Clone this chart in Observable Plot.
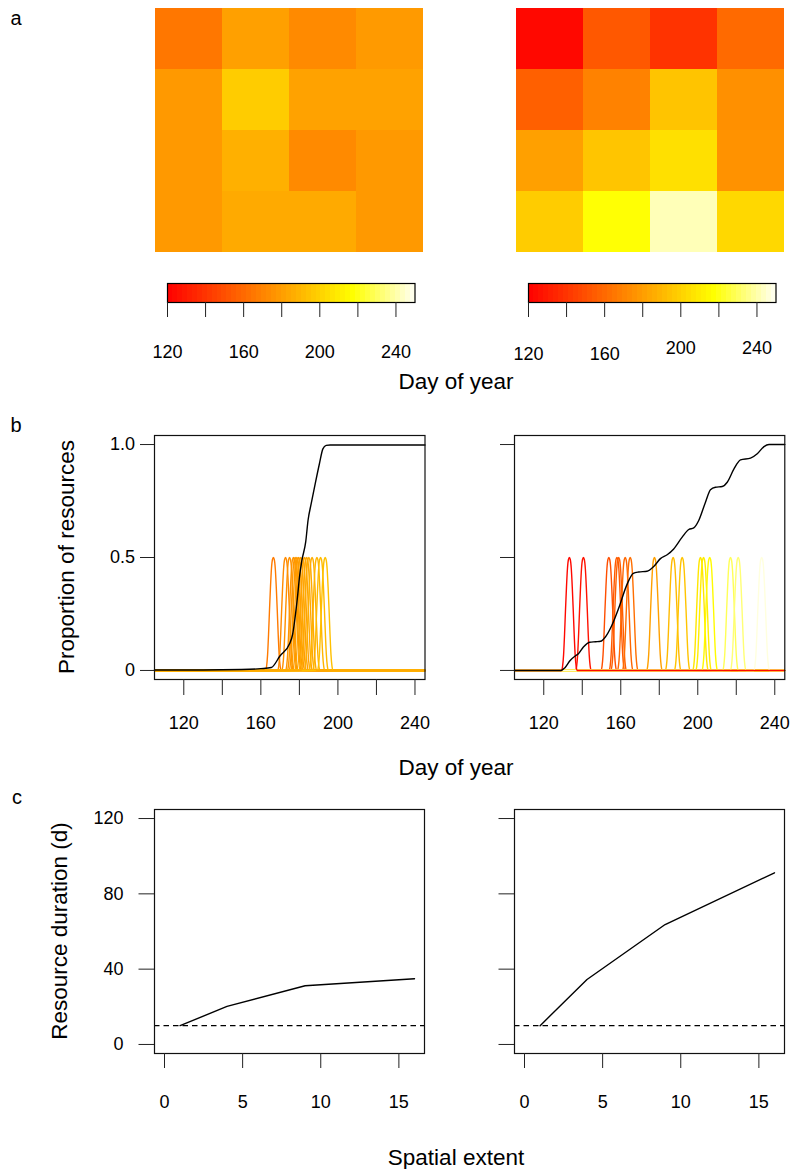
<!DOCTYPE html>
<html><head><meta charset="utf-8">
<script src="https://cdn.jsdelivr.net/npm/d3@7"></script>
<script src="https://cdn.jsdelivr.net/npm/@observablehq/plot@0.6"></script>
<style>
body{margin:0;background:#fff;}
#fig{position:relative;width:791px;height:1169px;font-family:"Liberation Sans",Arial,Helvetica,sans-serif;color:#000;overflow:hidden;background:#fff}
.lbl{position:absolute;transform:translate(-50%,-50%);white-space:nowrap;font-size:22.5px;line-height:1}
.rot{transform:translate(-50%,-50%) rotate(-90deg)}
.let{position:absolute;transform:translate(-50%,-50%);font-size:20px;line-height:1}
</style></head><body><div id="fig"></div>
<script>
// ---------------- data ----------------
const heatLeft = [
  [165.6, 181.2, 172.8, 178.9],
  [178.5, 198.0, 181.9, 181.9],
  [178.5, 187.3, 172.8, 178.5],
  [178.5, 185.0, 185.0, 178.5]
];
const heatRight = [
  [123.0, 153.6, 139.5, 160.5],
  [156.7, 169.7, 195.0, 175.0],
  [181.2, 195.4, 205.6, 175.8],
  [198.0, 218.0, 241.9, 202.6]
];
const colorbarTicks = [120, 140, 160, 180, 200, 220, 240];
const colorbarLabelsLow = [120, 160];
const colorbarLabelsHigh = [200, 240];

const dayTicks = [120, 140, 160, 180, 200, 220, 240];
const dayLabels = [120, 160, 200, 240];
const propTicks = [0, 0.5, 1];

// shape of one resource pulse (offset in days, proportion)
const bumpOffsets = [-4, -3.5, -3, -2.5, -2, -1.5, -1, -0.5, 0, 0.5, 1, 1.5, 2, 2.5, 3, 3.5, 4];
const bumpShape   = [0, 0.02, 0.07, 0.16, 0.27, 0.37, 0.45, 0.49, 0.5, 0.49, 0.45, 0.37, 0.27, 0.16, 0.07, 0.02, 0];

const peaksLeft = [166.5, 172.8, 174.9, 176.9, 177.8, 178.7, 179.6, 180.6, 181.6, 182.7, 183.8, 186.6, 189.1, 191.0, 193.4, 184.9];
const toneLeft  = [166.5, 172.8, 174.9, 176.9, 177.8, 178.7, 179.6, 180.6, 181.6, 182.7, 183.8, 186.6, 189.1, 191.0, 193.4, 184.9];
const peaksRight = [140.6, 153.8, 158.0, 158.9, 162.3, 164.9, 177.5, 187.2, 191.9, 201.4, 203.0, 206.2, 217.0, 221.0, 233.2, 133.3];
const toneRight  = [127, 150, 154, 156, 159, 162, 181, 191, 195, 208, 211, 216, 229, 233, 247, 123];

const cumLeftDay  = [104.8, 130, 150, 160, 165.4, 170, 174.9, 176.5, 178, 179.2, 180, 181.3, 183.3, 184.5, 186.1, 188.2, 190.4, 192.2, 193.9, 196, 245.2];
const cumLeftProp = [0.002, 0.002, 0.004, 0.008, 0.013, 0.065, 0.118, 0.16, 0.25, 0.34, 0.41, 0.487, 0.57, 0.665, 0.737, 0.826, 0.915, 0.981, 0.996, 0.998, 0.998];

const cumRightDay  = [104.8, 129, 131, 133.7, 136.3, 138, 140.6, 143.8, 147, 149.5, 152, 155.4, 158.9, 163.2, 166.5, 169.3, 173.6, 177.1, 180.6, 184.1, 187.5, 191.9, 195.3, 197.9, 200.5, 204, 206.6, 209.2, 212.7, 215.3, 218.8, 222.2, 227.4, 230.9, 234.4, 237, 245.2];
const cumRightProp = [0, 0, 0.012, 0.044, 0.064, 0.074, 0.104, 0.125, 0.127, 0.129, 0.148, 0.2, 0.275, 0.38, 0.43, 0.436, 0.439, 0.46, 0.495, 0.512, 0.538, 0.59, 0.624, 0.631, 0.664, 0.745, 0.8, 0.811, 0.814, 0.833, 0.892, 0.932, 0.94, 0.959, 0.991, 1.0, 1.0];

const extent = [1, 4, 9, 16];
const durLeft = [10, 20.2, 31.2, 34.9];
const durRight = [10, 34.5, 63.7, 91.2];
const threshold = 10;
const extentTicks = [0, 5, 10, 15];
const durTicks = [0, 40, 80, 120];

// ---------------- helpers ----------------
const fig = document.getElementById("fig");
const FONT = '"Liberation Sans", Arial, Helvetica, sans-serif';
const heatScale = {type: "linear", domain: [120, 217.5, 250], range: ["#ff0000", "#ffff00", "#fffff5"], interpolate: "rgb"};
const baseStyle = {fontFamily: FONT, fontSize: "18px", background: "transparent", overflow: "visible", color: "#000"};

function place(svg, frameLeft, frameTop, ml, mt) {
  svg.style.position = "absolute";
  svg.style.left = (frameLeft - ml) + "px";
  svg.style.top = (frameTop - mt) + "px";
  svg.style.maxWidth = "none";
  fig.appendChild(svg);
}
function text(str, x, y, cls) {
  const d = document.createElement("div");
  d.className = cls;
  d.textContent = str;
  d.style.left = x + "px";
  d.style.top = y + "px";
  fig.appendChild(d);
}

function heatmap(grid, L, T, W, H) {
  const cells = [];
  grid.forEach((row, i) => row.forEach((v, j) => cells.push({row: i, col: j, v})));
  const p = Plot.plot({
    width: W, height: H, margin: 0, style: baseStyle,
    x: {type: "band", domain: [0, 1, 2, 3], padding: 0, axis: null},
    y: {type: "band", domain: [0, 1, 2, 3], padding: 0, axis: null},
    color: heatScale,
    marks: [Plot.cell(cells, {x: "col", y: "row", fill: "v", inset: 0, shapeRendering: "crispEdges"})]
  });
  place(p, L, T, 0, 0);
}

const rampStep = 2.6;
const ramp = d3.range(120, 250 - 1e-9, rampStep);  // colour-bar ramp (legend)

function colorbar(L, padLow, padHigh) {
  const ml = 25, mr = 25, mt = 4, mb = 80, W = 247.5, H = 19;
  const p = Plot.plot({
    width: ml + W + mr, height: mt + H + mb,
    marginLeft: ml, marginRight: mr, marginTop: mt, marginBottom: mb,
    style: baseStyle,
    x: {domain: [120, 250], label: null},
    y: {domain: [0, 1], axis: null},
    color: heatScale,
    marks: [
      Plot.rect(ramp, {x1: d => d, x2: d => Math.min(250, d + rampStep), y1: 0, y2: 1, fill: d => d + rampStep / 2, shapeRendering: "crispEdges"}),
      Plot.frame({stroke: "#000", strokeWidth: 1.2}),
      Plot.axisX(colorbarTicks, {tickSize: 15, tickFormat: () => "", label: null, stroke: "#222"}),
      Plot.axisX(colorbarLabelsLow, {tickSize: 0, tickPadding: padLow, label: null}),
      Plot.axisX(colorbarLabelsHigh, {tickSize: 0, tickPadding: padHigh, label: null})
    ]
  });
  place(p, L, 282.5, ml, mt);
}

function bumpRows(peaks, tones, dom) {
  const rows = [];
  peaks.forEach((pk, k) => {
    rows.push({id: k, d: dom[0], v: 0, t: tones[k]});
    bumpOffsets.forEach((o, i) => rows.push({id: k, d: pk + o, v: bumpShape[i], t: tones[k]}));
    rows.push({id: k, d: dom[1], v: 0, t: tones[k]});
  });
  return rows;
}

function panelB(L, W, peaks, tones, cumD, cumP, withLabels) {
  const ml = 75, mr = 8, mt = 8, mb = 70, H = 244;
  const dom = [104.8, 245.2];
  const cum = cumD.map((d, i) => ({d, v: cumP[i]}));
  const p = Plot.plot({
    width: ml + W + mr, height: mt + H + mb,
    marginLeft: ml, marginRight: mr, marginTop: mt, marginBottom: mb,
    style: baseStyle,
    x: {domain: dom, label: null},
    y: {domain: [-0.04, 1.04], label: null},
    color: heatScale,
    marks: [
      Plot.line(bumpRows(peaks, tones, dom), {x: "d", y: "v", z: "id", stroke: "t", strokeWidth: 1.4, curve: "monotone-x"}),
      Plot.line(cum, {x: "d", y: "v", stroke: "#000", strokeWidth: 1.4, curve: "monotone-x"}),
      Plot.frame({stroke: "#111", strokeWidth: 1.2}),
      Plot.axisX(dayTicks, {tickSize: 16, tickPadding: 21, tickFormat: d => dayLabels.includes(d) ? String(d) : "", label: null, stroke: "#222"}),
      Plot.axisY(propTicks, {tickSize: 14, tickPadding: 5.5, tickFormat: withLabels ? (d => d === 0 ? "0" : d.toFixed(1)) : () => "", label: null, stroke: "#222"})
    ]
  });
  place(p, L, 435, ml, mt);
}

function panelC(L, W, dur, withLabels) {
  const ml = 75, mr = 8, mt = 12, mb = 70, H = 244;
  const rows = extent.map((e, i) => ({e, v: dur[i]}));
  const p = Plot.plot({
    width: ml + W + mr, height: mt + H + mb,
    marginLeft: ml, marginRight: mr, marginTop: mt, marginBottom: mb,
    style: baseStyle,
    x: {domain: [-0.64, 16.64], label: null},
    y: {domain: [-4.8, 124.8], label: null},
    marks: [
      Plot.ruleY([threshold], {stroke: "#000", strokeWidth: 1.3, strokeDasharray: "5.5,4"}),
      Plot.line(rows, {x: "e", y: "v", stroke: "#000", strokeWidth: 1.4}),
      Plot.frame({stroke: "#111", strokeWidth: 1.2}),
      Plot.axisX(extentTicks, {tickSize: 15, tickPadding: 27, tickFormat: d => String(d), label: null, stroke: "#222"}),
      Plot.axisY(durTicks, {tickSize: 15.5, tickPadding: 15.5, tickFormat: withLabels ? (d => String(d)) : () => "", label: null, stroke: "#222"})
    ]
  });
  place(p, L, 809, ml, mt);
}

// ---------------- panels ----------------
heatmap(heatLeft, 154, 7, 270, 246);
heatmap(heatRight, 514, 7, 271, 246);
colorbar(166.5, 42.5, 42.5);
colorbar(527.5, 44.5, 38.5);

panelB(153.5, 270.5, peaksLeft, toneLeft, cumLeftDay, cumLeftProp, true);
panelB(514.2, 270.3, peaksRight, toneRight, cumRightDay, cumRightProp, false);

panelC(153.7, 270, durLeft, true);
panelC(514.3, 270, durRight, false);

// ---------------- text ----------------
text("a", 16, 18, "let");
text("b", 16, 425, "let");
text("c", 17, 797, "let");
text("Day of year", 456, 382, "lbl");
text("Day of year", 456, 768, "lbl");
text("Spatial extent", 456, 1158, "lbl");
text("Proportion of resources", 67, 557, "lbl rot");
text("Resource duration (d)", 60, 931, "lbl rot");
</script></body></html>
